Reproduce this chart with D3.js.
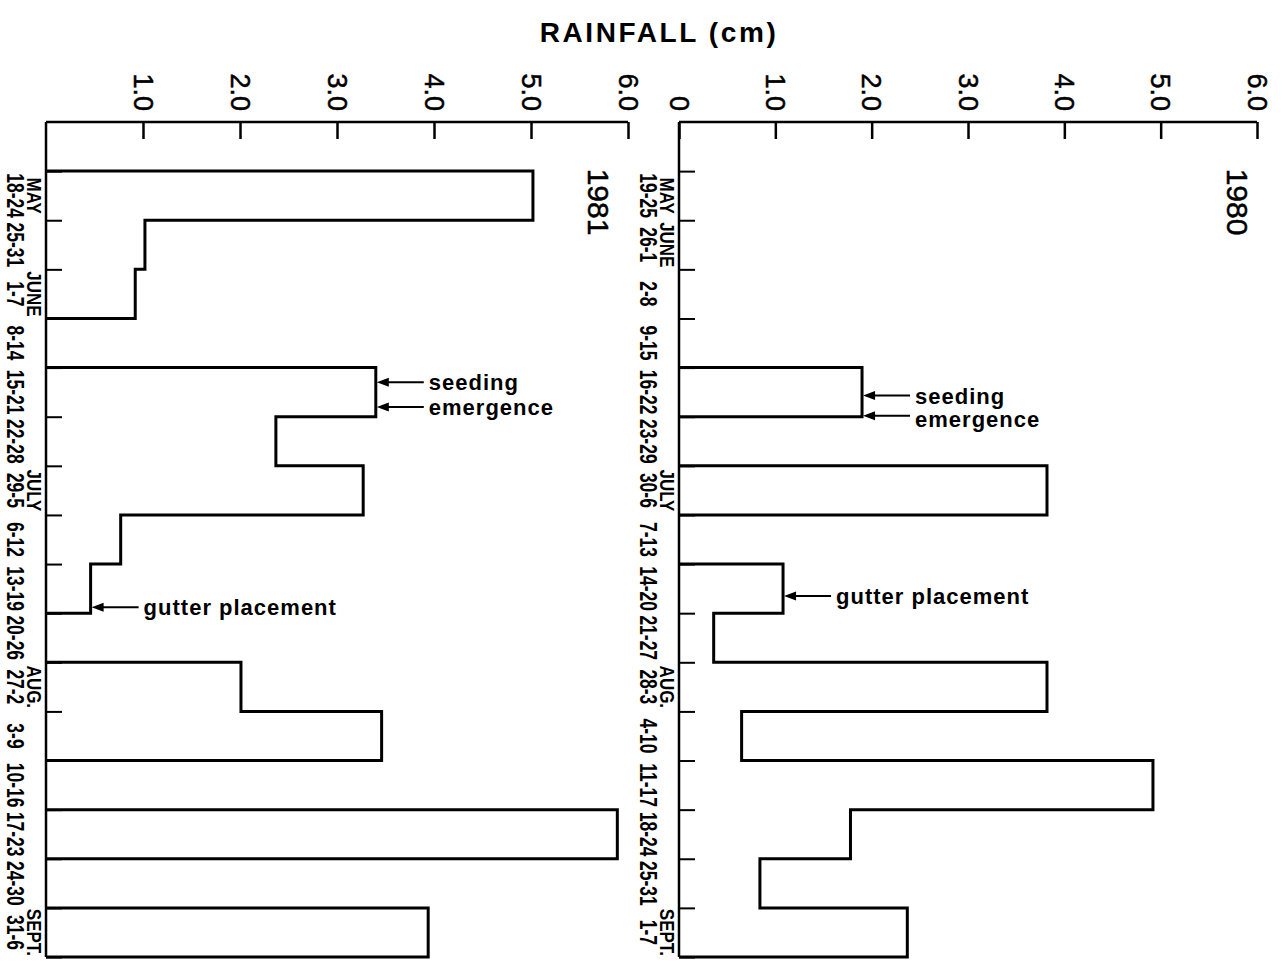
<!DOCTYPE html>
<html>
<head>
<meta charset="utf-8">
<script src="https://cdn.jsdelivr.net/npm/d3@7/dist/d3.min.js"></script>
<style>
  html, body { margin: 0; padding: 0; background: #fff; }
  svg { display: block; }
  text { font-family: "Liberation Sans", Arial, sans-serif; fill: #000; }
  .pen { stroke: #000; stroke-width: 0.5px; }
</style>
</head>
<body>
<svg id="chart" width="1281" height="964"></svg>
<script>
// Weekly rainfall (cm), growing seasons 1980 and 1981
const weeks1980 = ["19-25","26-1","2-8","9-15","16-22","23-29","30-6","7-13",
                   "14-20","21-27","28-3","4-10","11-17","18-24","25-31","1-7"];
const rain1980  = [0, 0, 0, 0, 1.90, 0, 3.82, 0, 1.08, 0.36, 3.82, 0.65, 4.92, 1.78, 0.84, 2.37];
const months1980 = [["MAY", 0], ["JUNE", 1], ["JULY", 6], ["AUG.", 10], ["SEPT.", 15]];

const weeks1981 = ["18-24","25-31","1-7","8-14","15-21","22-28","29-5","6-12",
                   "13-19","20-26","27-2","3-9","10-16","17-23","24-30","31-6"];
const rain1981  = [5.02, 1.02, 0.92, 0, 3.40, 2.37, 3.27, 0.77, 0.46, 0, 2.01, 3.46, 0, 5.89, 0, 3.94];
const months1981 = [["MAY", 0], ["JUNE", 2], ["JULY", 6], ["AUG.", 10], ["SEPT.", 15]];

const rainTicks = [0, 1, 2, 3, 4, 5, 6];
const rainTickLabels = ["0", "1.0", "2.0", "3.0", "4.0", "5.0", "6.0"];

// Field events: week index, position within the week, label
const events1980 = [
  { week: 4, at: 0.57, text: "seeding" },
  { week: 4, at: 0.98, text: "emergence" },
  { week: 8, at: 0.65, text: "gutter placement" }
];
const events1981 = [
  { week: 4, at: 0.30, text: "seeding" },
  { week: 4, at: 0.80, text: "emergence" },
  { week: 8, at: 0.88, text: "gutter placement" }
];

const svg = d3.select("#chart");
svg.append("rect").attr("width", 1281).attr("height", 964).attr("fill", "#fff");

svg.append("text")
  .attr("x", 659).attr("y", 42)
  .attr("text-anchor", "middle")
  .style("font-size", "28px").style("font-weight", "bold")
  .style("letter-spacing", "2.6px")
  .text("RAINFALL (cm)");

function panel(cfg) {
  const g = svg.append("g");
  const x = d3.scaleLinear().domain([0, 6]).range(cfg.xRange);
  // slot -1 is the blank band under the rainfall axis
  const y = d3.scaleLinear().domain([-1, 16]).range([122, 957]);

  // rainfall axis along the top, ticks pointing into the plot
  const ticks = cfg.showZero ? rainTicks : rainTicks.slice(1);
  const top = g.append("g")
    .attr("transform", `translate(0,${y(-1)})`)
    .call(d3.axisTop(x)
      .tickValues(ticks)
      .tickFormat(d => rainTickLabels[rainTicks.indexOf(d)])
      .tickSize(-17)
      .tickSizeOuter(0));
  top.select(".domain").attr("stroke", "#000").attr("stroke-width", 2.5)
    .attr("d", `M${x(0)},0H${x(6)}`);
  top.selectAll(".tick line").attr("stroke", "#000").attr("stroke-width", 2.5);
  top.selectAll(".tick text")
    .attr("class", "pen")
    .attr("transform", "rotate(90)")
    .attr("x", -11).attr("y", 0).attr("dy", "0.36em")
    .attr("text-anchor", "end")
    .style("font-size", "27px")
    .style("font-family", "\"Liberation Sans\", Arial, sans-serif");

  // week axis on the left, ticks at week boundaries pointing right
  const left = g.append("g")
    .attr("transform", `translate(${x(0)},0)`)
    .call(d3.axisLeft(y)
      .tickValues(d3.range(0, 17))
      .tickFormat("")
      .tickSize(-16)
      .tickSizeOuter(0));
  left.select(".domain").attr("stroke", "#000").attr("stroke-width", 2.5)
    .attr("d", `M0,${y(-1)}V${y(16)}`);
  left.selectAll(".tick line").attr("stroke", "#000").attr("stroke-width", 2);

  // week labels
  g.append("g").selectAll("text")
    .data(cfg.weeks)
    .join("text")
    .attr("transform", (d, i) => `translate(${x(0) - 31},${y(i + 0.5)}) rotate(90) scale(0.76,1)`)
    .attr("text-anchor", "middle")
    .attr("dy", "0.36em")
    .style("font-size", "23px").style("font-weight", "bold")
    .text(d => d);

  // month labels
  g.append("g").selectAll("text")
    .data(cfg.months)
    .join("text")
    .attr("transform", d => `translate(${x(0) - 12},${y(d[1] + 0.5)}) rotate(90) scale(0.85,1)`)
    .attr("text-anchor", "middle")
    .attr("dy", "0.36em")
    .style("font-size", "20px").style("font-weight", "bold")
    .text(d => d[0]);

  // year
  g.append("text")
    .attr("class", "pen")
    .attr("transform", `translate(${x(cfg.yearAt)},${y(-0.05)}) rotate(90)`)
    .attr("text-anchor", "start")
    .attr("dy", "0.36em")
    .style("font-size", "30px")
    .text(cfg.year);

  // rainfall outline: each run of wet weeks drawn as one stepped outline
  const runs = [];
  let cur = null;
  cfg.rain.forEach((v, i) => {
    if (v > 0) {
      if (!cur) { cur = [[0, i]]; runs.push(cur); }
      cur.push([v, i], [v, i + 1]);
    } else if (cur) { cur.push([0, cur[cur.length - 1][1]]); cur = null; }
  });
  if (cur) cur.push([0, cur[cur.length - 1][1]]);

  const line = d3.line().x(d => x(d[0])).y(d => y(d[1]));
  g.append("g").selectAll("path")
    .data(runs)
    .join("path")
    .attr("d", line)
    .attr("fill", "none")
    .attr("stroke", "#000")
    .attr("stroke-width", 3)
    .attr("stroke-linejoin", "miter");

  // event arrows; stacked labels keep at least one line apart
  let prevLabel = -Infinity;
  const placed = cfg.events.map(d => {
    const ay = y(d.week + d.at);
    const ly = Math.max(ay + 8, prevLabel + 23);
    prevLabel = ly;
    return { ...d, ax: x(cfg.rain[d.week]), ay, ly };
  });
  const ev = g.append("g").selectAll("g")
    .data(placed)
    .join("g")
    .attr("transform", d => `translate(${d.ax},0)`);
  ev.append("line")
    .attr("x1", 8).attr("x2", 48)
    .attr("y1", d => d.ay).attr("y2", d => d.ay)
    .attr("stroke", "#000").attr("stroke-width", 2);
  ev.append("path")
    .attr("transform", d => `translate(0,${d.ay})`)
    .attr("d", "M1,0L13,-4.5L13,4.5Z")
    .attr("fill", "#000");
  ev.append("text")
    .attr("x", 53).attr("y", d => d.ly)
    .style("font-size", "22px").style("font-weight", "bold")
    .style("letter-spacing", "1px")
    .text(d => d.text);
}

panel({ xRange: [46, 628], weeks: weeks1981, rain: rain1981, months: months1981,
        events: events1981, year: "1981", yearAt: 5.7, showZero: false });
panel({ xRange: [679, 1257], weeks: weeks1980, rain: rain1980, months: months1980,
        events: events1980, year: "1980", yearAt: 5.8, showZero: true });
</script>
</body>
</html>
